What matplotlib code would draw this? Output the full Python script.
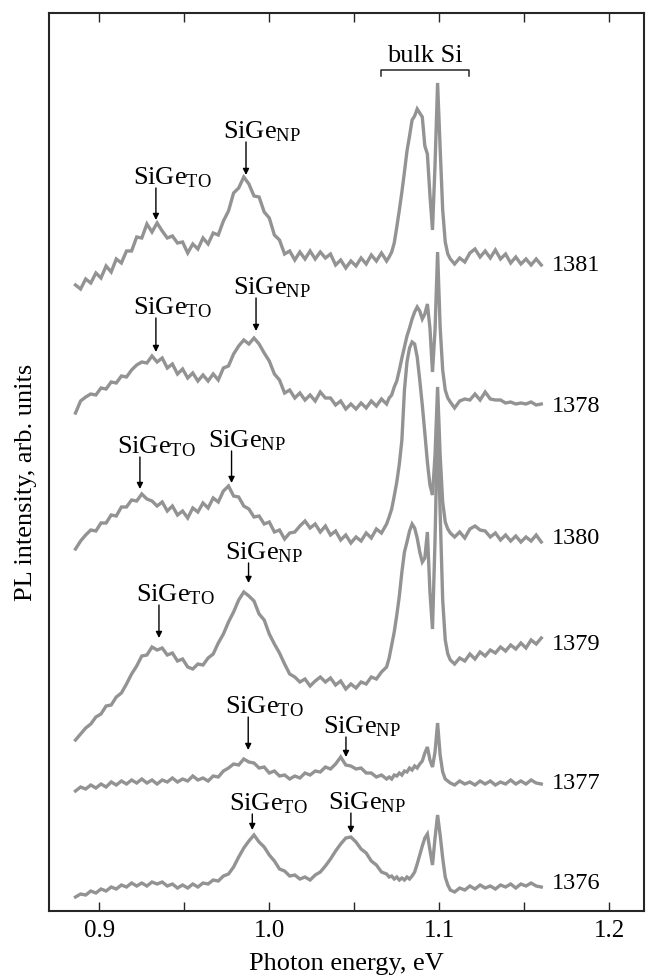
"""
PL spectra of SiGe samples, stacked, with bulk Si lines.
"""
import matplotlib
matplotlib.use('Agg')
import matplotlib.pyplot as plt
from matplotlib.ticker import MultipleLocator

plt.rcParams['font.family'] = ['Liberation Serif', 'DejaVu Serif']
plt.rcParams['mathtext.fontset'] = 'custom'
plt.rcParams['mathtext.rm'] = 'Liberation Serif'
plt.rcParams['mathtext.it'] = 'Liberation Serif:italic'

# photon energy grid, eV
energy = [
    0.886, 0.889, 0.892, 0.895, 0.898, 0.901, 0.904, 0.907, 0.910, 0.913,
    0.916, 0.919, 0.922, 0.925, 0.928, 0.931, 0.934, 0.937, 0.940, 0.943,
    0.946, 0.949, 0.952, 0.955, 0.958, 0.961, 0.964, 0.967, 0.970, 0.973,
    0.976, 0.979, 0.982, 0.985, 0.988, 0.991, 0.994, 0.997, 1.000, 1.003,
    1.006, 1.009, 1.012, 1.015, 1.018, 1.021, 1.024, 1.027, 1.030, 1.033,
    1.036, 1.039, 1.042, 1.045, 1.048, 1.051, 1.054, 1.057, 1.060, 1.063,
    1.066, 1.069,
    1.0705, 1.072, 1.0735, 1.075, 1.0765, 1.078, 1.0795, 1.081, 1.0825, 1.084,
    1.0855, 1.087, 1.0885, 1.090, 1.0915, 1.093, 1.0945, 1.096, 1.0975, 1.099,
    1.1005, 1.102, 1.1035, 1.105, 1.1065,
    1.109, 1.112, 1.115, 1.118, 1.121, 1.124, 1.127, 1.130, 1.133, 1.136,
    1.139, 1.142, 1.145, 1.148, 1.151, 1.154, 1.157, 1.160,
]

# stacked PL intensity (arb. units, offsets included)
pl_1381 = [
    625, 621, 631, 627, 637, 632, 644, 638, 651, 647,
    659, 659, 673, 672, 686, 678, 687, 679, 672, 674,
    667, 668, 657, 666, 661, 672, 666, 677, 675, 689,
    699, 717, 722, 733, 726, 714, 713, 698, 692, 675,
    670, 656, 659, 650, 658, 651, 659, 651, 658, 652,
    656, 645, 650, 642, 649, 644, 652, 646, 655, 649,
    657, 649,
    653, 658, 667, 683, 700, 718, 738, 759, 774, 790,
    794, 801, 797, 793, 764, 756, 715, 680, 745, 827,
    762, 700, 668, 656, 651,
    646, 652, 648, 657, 661, 653, 659, 652, 660, 651,
    656, 647, 653, 646, 651, 645, 651, 645,
]
pl_1378 = [
    497, 509, 513, 516, 515, 522, 521, 528, 527, 534,
    533, 540, 545, 548, 547, 554, 548, 552, 542, 546,
    536, 541, 532, 537, 529, 535, 529, 536, 530, 542,
    544, 556, 564, 570, 566, 572, 566, 557, 549, 536,
    530, 517, 520, 512, 517, 510, 515, 509, 518, 512,
    512, 505, 509, 501, 506, 501, 507, 502, 509, 504,
    511, 506,
    512, 515, 523, 529, 540, 552, 563, 574, 582, 591,
    598, 603, 599, 591, 596, 606, 582, 538, 580, 658,
    583, 540, 520, 512, 508,
    502, 509, 511, 510, 516, 510, 518, 511, 510, 510,
    507, 508, 506, 507, 506, 508, 505, 506,
]
pl_1380 = [
    361, 369, 375, 380, 379, 387, 387, 395, 394, 403,
    403, 410, 409, 416, 411, 409, 404, 408, 399, 404,
    395, 399, 392, 402, 398, 407, 402, 412, 408, 419,
    424, 414, 413, 404, 401, 393, 394, 386, 388, 378,
    380, 371, 377, 378, 384, 389, 382, 386, 378, 384,
    375, 379, 370, 375, 367, 373, 369, 377, 372, 381,
    377, 386,
    393, 401, 414, 428, 446, 470, 520, 548, 562, 568,
    566, 553, 530, 505, 477, 448, 425, 415, 455, 523,
    455, 408, 388, 381, 377,
    373, 378, 372, 381, 384, 380, 379, 373, 377, 370,
    375, 369, 374, 368, 373, 369, 375, 368,
]
pl_1379 = [
    170, 176, 182, 186, 193, 196, 204, 205, 213, 217,
    226, 236, 244, 254, 255, 263, 260, 262, 255, 257,
    249, 251, 243, 241, 246, 245, 252, 256, 267, 276,
    288, 298, 310, 318, 314, 309, 296, 290, 276, 266,
    257, 246, 236, 233, 228, 231, 224, 229, 233, 228,
    232, 225, 229, 221, 226, 222, 228, 226, 233, 231,
    238, 243,
    252, 265, 278, 295, 314, 338, 358, 368, 379, 386,
    382, 372, 358, 348, 352, 378, 318, 281, 370, 490,
    398, 310, 270, 256, 250,
    246, 252, 249, 256, 251, 258, 254, 260, 257, 263,
    259, 265, 261, 267, 262, 270, 266, 272,
]
pl_1377 = [
    119, 123, 121, 125, 122, 126, 123, 128, 125, 129,
    126, 130, 127, 131, 127, 130, 126, 130, 128, 132,
    128, 131, 129, 134, 130, 132, 129, 134, 133, 139,
    142, 146, 145, 151, 148, 147, 142, 143, 137, 139,
    134, 135, 131, 134, 132, 137, 135, 139, 138, 143,
    141, 146, 153, 145, 144, 141, 142, 137, 137, 133,
    135, 131,
    133, 131, 135, 134, 137, 135, 139, 138, 142, 140,
    144, 142, 146, 149, 157, 163, 150, 143, 158, 187,
    155, 138, 131, 129, 127,
    125, 129, 126, 128, 125, 129, 126, 129, 125, 128,
    126, 130, 126, 129, 126, 130, 127, 126,
]
pl_1376 = [
    13, 16, 15, 19, 17, 21, 19, 23, 21, 25,
    23, 27, 24, 27, 24, 28, 26, 28, 24, 26,
    22, 25, 22, 26, 23, 27, 26, 30, 29, 34,
    36, 43, 53, 62, 69, 75, 68, 63, 55, 49,
    41, 39, 34, 35, 31, 33, 30, 35, 38, 44,
    51, 59, 66, 72, 73, 68, 61, 57, 49, 45,
    38, 36,
    33, 34, 31, 33, 30, 32, 30, 33, 31, 34,
    38, 46, 55, 64, 72, 76, 60, 45, 72, 95,
    75, 52, 33, 25, 20,
    18, 22, 20, 24, 21, 25, 22, 24, 21, 25,
    23, 26, 22, 26, 24, 27, 24, 23,
]

sample_names = ['1381', '1378', '1380', '1379', '1377', '1376']
spectra = [pl_1381, pl_1378, pl_1380, pl_1379, pl_1377, pl_1376]
# level of the sample number at the right end of each trace
name_levels = [644, 503, 372, 266, 127, 27]

# peak markers: (label, energy, arrow tail, arrow tip)
peak_marks = [
    ('TO', 0.9333, 722, 690), ('NP', 0.9863, 768, 735),
    ('TO', 0.9333, 592, 558), ('NP', 0.9922, 612, 579),
    ('TO', 0.9239, 453, 421), ('NP', 0.9778, 459, 427),
    ('TO', 0.9351, 305, 272), ('NP', 0.9878, 347, 327),
    ('TO', 0.9876, 193, 160), ('NP', 1.0451, 173, 153),
    ('TO', 0.9900, 96, 80), ('NP', 1.0480, 97, 77),
]

# bulk Si bracket span, eV
bulk_si_span = (1.0655, 1.1176)

line_color = '#939393'
axis_color = '#262626'

fig = plt.figure(figsize=(6.48, 9.76), dpi=100)
ax = fig.add_axes([0.0761, 0.0671, 0.9182, 0.9199])

for name, y, lvl in zip(sample_names, spectra, name_levels):
    ax.plot(energy, y, color=line_color, lw=2.4, solid_joinstyle='miter')
    ax.text(1.1661, lvl, name, fontsize=17.5, ha='left', va='center')

for kind, x, tail, tip in peak_marks:
    ax.annotate('', xy=(x, tip), xytext=(x, tail),
                arrowprops=dict(arrowstyle='-|>', color='black', lw=1.0,
                                mutation_scale=9, shrinkA=0, shrinkB=0))
    ax.text(x - 0.0137, tail + 4, 'SiGe$_{\\mathrm{%s}}$' % kind,
            fontsize=19, ha='left', va='baseline')

# bulk Si bracket
x0, x1 = bulk_si_span
ax.plot([x0, x0, x1, x1], [834, 840, 840, 834], color=axis_color, lw=1.1)
ax.text((x0 + x1) / 2, 848, 'bulk Si', fontsize=19, ha='center', va='baseline')

ax.set_xlim(0.8706, 1.2206)
ax.set_ylim(-0.5, 897.3)
ax.set_yticks([])
ax.xaxis.set_major_locator(MultipleLocator(0.1))
ax.xaxis.set_minor_locator(MultipleLocator(0.05))
ax.set_xticks([0.9, 1.0, 1.1, 1.2])
ax.set_xticklabels(['0.9', '1.0', '1.1', '1.2'])
ax.tick_params(axis='x', which='both', direction='in', top=True,
               length=6.5, width=1.0, color=axis_color, labelsize=18, pad=7)

for side in ['bottom', 'left', 'top', 'right']:
    ax.spines[side].set_color(axis_color)
    ax.spines[side].set_linewidth(1.5)

ax.set_xlabel('Photon energy, eV', fontsize=19)
ax.xaxis.set_label_coords(0.5, -0.047)
ax.set_ylabel('PL intensity, arb. units', fontsize=19)
ax.yaxis.set_label_coords(-0.021, 0.477)

fig.savefig('out.png', dpi=100, facecolor='white')
